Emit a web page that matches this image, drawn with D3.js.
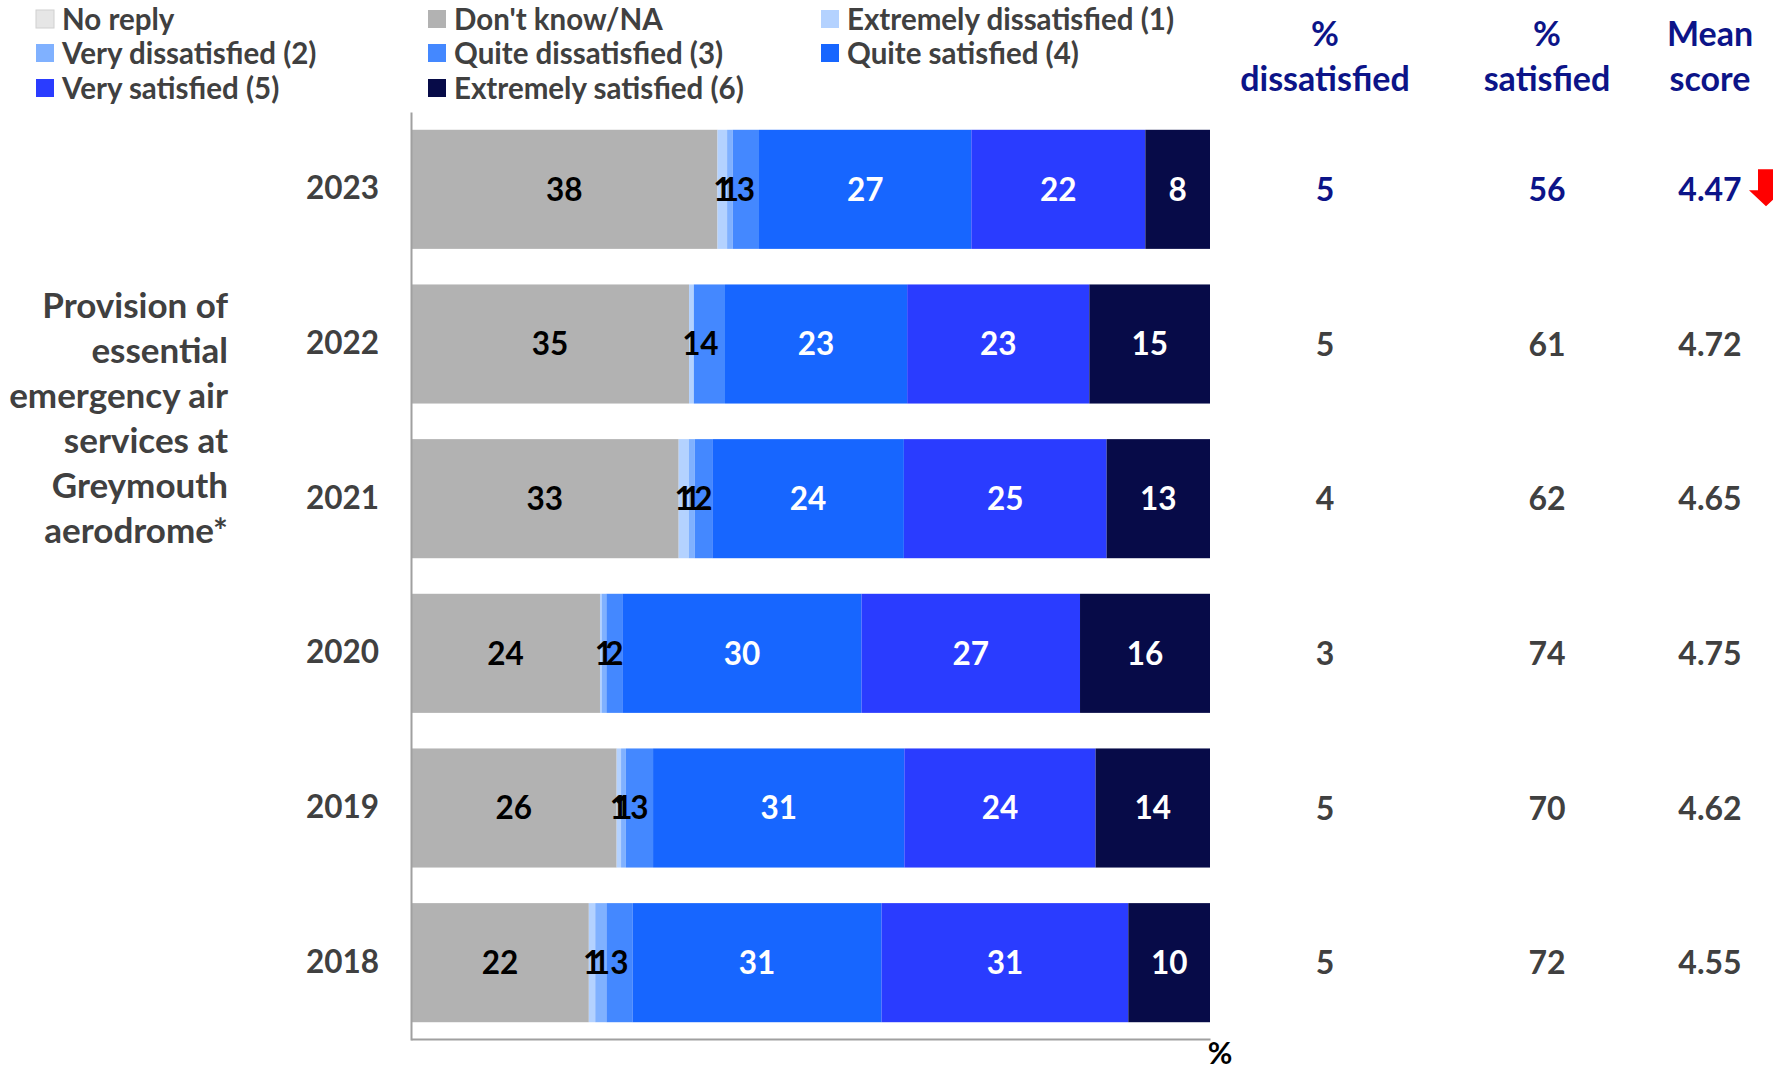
<!DOCTYPE html>
<html>
<head>
<meta charset="utf-8">
<script src="https://cdn.jsdelivr.net/npm/d3@7/dist/d3.min.js"></script>
<style>
  html, body { margin: 0; padding: 0; background: #fff; }
  svg { display: block; }
  text { font-family: Lato, "Open Sans", sans-serif; font-weight: 700; }
</style>
</head>
<body>
<svg id="chart" width="1773" height="1070"></svg>
<script>
// ---- data ----
const years = ["2023", "2022", "2021", "2020", "2019", "2018"];
const seriesNames = ["No reply", "Don't know/NA", "Extremely dissatisfied (1)", "Very dissatisfied (2)",
  "Quite dissatisfied (3)", "Quite satisfied (4)", "Very satisfied (5)", "Extremely satisfied (6)"];
const seriesColors = ["#e6e6e6", "#b2b2b2", "#b4d2ff", "#80b1ff", "#4488ff", "#1766ff", "#2a3cff", "#070b48"];
const labelColors = ["#000", "#000", "#000", "#000", "#000", "#fff", "#fff", "#fff"];

const noReply      = [0, 0, 0, 0, 0, 0];
const dontKnow     = [38.4, 34.8, 33.4, 23.7, 25.7, 22.2];
const extDis       = [1.2, 0.6, 1.25, 0.2, 0.55, 0.8];
const veryDis      = [0.7, 0, 0.75, 0.6, 0.6, 1.4];
const quiteDis     = [3.3, 3.9, 2.2, 2.0, 3.4, 3.25];
const quiteSat     = [26.6, 22.8, 23.9, 30.0, 31.4, 31.1];
const verySat      = [21.8, 22.8, 25.3, 27.4, 23.9, 30.8];
const extSat       = [8.1, 15.1, 12.9, 16.3, 14.3, 10.2];

const pctDissatisfied = [5, 5, 4, 3, 5, 5];
const pctSatisfied    = [56, 61, 62, 74, 70, 72];
const meanScore       = ["4.47", "4.72", "4.65", "4.75", "4.62", "4.55"];

const categoryLines = ["Provision of", "essential", "emergency air", "services at", "Greymouth", "aerodrome*"];
const columnHeaders = [["%", "dissatisfied"], ["%", "satisfied"], ["Mean", "score"]];

// ---- build table ----
const seriesValues = [noReply, dontKnow, extDis, veryDis, quiteDis, quiteSat, verySat, extSat];
const table = years.map((yr, i) => {
  const row = { year: yr };
  seriesNames.forEach((s, j) => row[s] = seriesValues[j][i]);
  return row;
});

const svg = d3.select("#chart");
const textGray = "#404040";
const navy = "#0c1488";

const x = d3.scaleLinear().domain([0, 1]).range([411, 1210]);
const y = d3.scaleBand().domain(years).range([112, 1040]).paddingInner(0.23).paddingOuter(0.115);
const color = d3.scaleOrdinal().domain(seriesNames).range(seriesColors);

const stacked = d3.stack().keys(seriesNames).offset(d3.stackOffsetExpand)(table);

// bars
const layers = svg.append("g").selectAll("g").data(stacked).join("g")
  .attr("fill", d => color(d.key));
layers.selectAll("rect").data(d => d).join("rect")
  .attr("x", d => x(d[0]))
  .attr("y", d => y(d.data.year))
  .attr("width", d => Math.max(0, x(d[1]) - x(d[0])))
  .attr("height", y.bandwidth());

// bar labels
stacked.forEach((layer, j) => {
  svg.append("g").selectAll("text")
    .data(layer.filter(d => Math.round(d.data[layer.key]) >= 1))
    .join("text")
    .attr("x", d => (x(d[0]) + x(d[1])) / 2)
    .attr("y", d => y(d.data.year) + y.bandwidth() / 2)
    .attr("dy", "0.36em")
    .attr("text-anchor", "middle")
    .attr("font-size", 31.5)
    .attr("fill", labelColors[j])
    .text(d => Math.round(d.data[layer.key]));
});

// axes
const yAxis = svg.append("g").attr("transform", "translate(411,0)")
  .call(d3.axisLeft(y).tickSize(0).tickSizeOuter(0).tickPadding(32));
yAxis.select(".domain").attr("stroke", "#a0a0a0").attr("stroke-width", 2);
yAxis.selectAll("text").attr("font-size", 31.5).attr("fill", textGray)
  .attr("font-family", "Lato, sans-serif").attr("font-weight", 700);

const xAxis = svg.append("g").attr("transform", "translate(0,1039)")
  .call(d3.axisBottom(x).tickValues([]).tickSizeOuter(0));
xAxis.select(".domain").attr("stroke", "#a0a0a0").attr("stroke-width", 2);

svg.append("text").attr("x", 1220).attr("y", 1053).attr("dy", "0.36em")
  .attr("text-anchor", "middle").attr("font-size", 30).attr("fill", "#000").text("%");

// category label
svg.append("g").selectAll("text").data(categoryLines).join("text")
  .attr("x", 228)
  .attr("y", (d, i) => 305 + i * 45)
  .attr("dy", "0.36em")
  .attr("text-anchor", "end")
  .attr("font-size", 35)
  .attr("fill", textGray)
  .text(d => d);

// legend
const legendItems = seriesNames.map((s, i) => ({ name: s, col: i % 3, row: Math.floor(i / 3) }));
const legendColX = [36, 428, 821];
const legendRowY = [19, 53, 88];
const lg = svg.append("g").selectAll("g").data(legendItems).join("g")
  .attr("transform", d => `translate(${legendColX[d.col]},${legendRowY[d.row]})`);
lg.append("rect").attr("x", 0).attr("y", -9).attr("width", 18).attr("height", 18)
  .attr("fill", d => color(d.name))
  .attr("stroke", d => d.name === "No reply" ? "#d0d0d0" : "none");
lg.append("text").attr("x", 26).attr("dy", "0.36em").attr("font-size", 29.5)
  .attr("fill", textGray).text(d => d.name);

// right-hand columns
const colX = [1325, 1547, 1710];
const hdr = svg.append("g");
columnHeaders.forEach((lines, c) => {
  lines.forEach((ln, k) => {
    hdr.append("text").attr("x", colX[c]).attr("y", 34 + k * 45).attr("dy", "0.36em")
      .attr("text-anchor", "middle").attr("font-size", 34).attr("fill", navy).text(ln);
  });
});
const colData = [pctDissatisfied, pctSatisfied, meanScore];
colData.forEach((arr, c) => {
  svg.append("g").selectAll("text").data(years).join("text")
    .attr("x", colX[c])
    .attr("y", d => y(d) + y.bandwidth() / 2)
    .attr("dy", "0.36em")
    .attr("text-anchor", "middle")
    .attr("font-size", 32)
    .attr("fill", (d, i) => i === 0 ? navy : textGray)
    .text((d, i) => arr[i]);
});

// red down arrow next to 2023 mean score
const ay = y(years[0]) + y.bandwidth() / 2;
svg.append("path")
  .attr("d", `M1758,${ay - 20} L1774,${ay - 20} L1774,${ay + 1} L1783,${ay + 1} L1766,${ay + 17} L1749,${ay + 1} L1758,${ay + 1} Z`)
  .attr("fill", "#ff0000");
</script>
</body>
</html>
